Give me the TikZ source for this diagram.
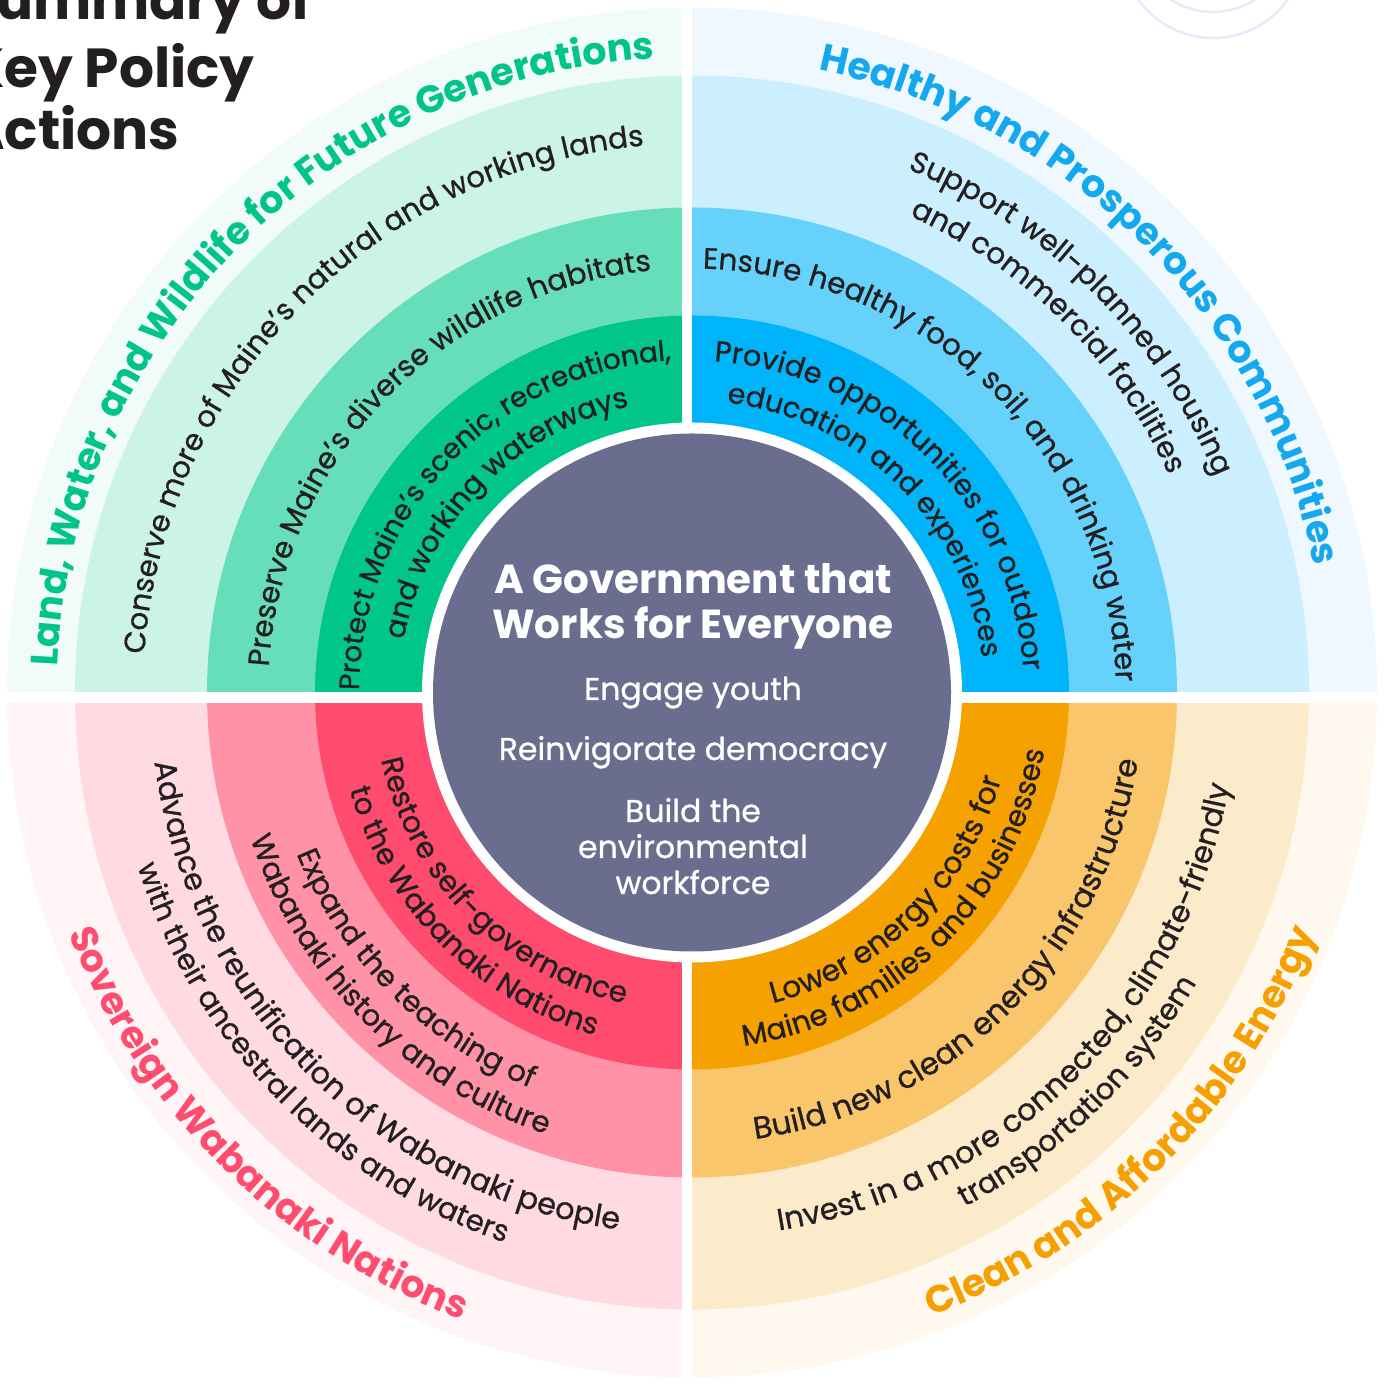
\documentclass[tikz,border=0pt]{standalone}
\usepackage{fontspec}
\setmainfont{Poppins}
\newfontfamily\medfont{Poppins}[FakeBold=0.8]
\usetikzlibrary{decorations.text}
\definecolor{ink}{HTML}{231F20}
\definecolor{tlA}{HTML}{F1FBF7}
\definecolor{tlB}{HTML}{CCF4E6}
\definecolor{tlC}{HTML}{66DEBA}
\definecolor{tlD}{HTML}{00C68A}
\definecolor{trA}{HTML}{EFF8FF}
\definecolor{trB}{HTML}{CCEFFF}
\definecolor{trC}{HTML}{66D2FC}
\definecolor{trD}{HTML}{00B4F9}
\definecolor{blA}{HTML}{FFF5F7}
\definecolor{blB}{HTML}{FFDAE2}
\definecolor{blC}{HTML}{FF92A7}
\definecolor{blD}{HTML}{FF4B6E}
\definecolor{brA}{HTML}{FEF8EF}
\definecolor{brB}{HTML}{FCEBCB}
\definecolor{brC}{HTML}{F9C66B}
\definecolor{brD}{HTML}{F5A200}
\definecolor{purp}{HTML}{6B6D8E}
\definecolor{faint}{HTML}{E4ECFA}
\definecolor{tG}{HTML}{00C48A}
\definecolor{tB}{HTML}{14A9EF}
\definecolor{tP}{HTML}{FF4D70}
\definecolor{tO}{HTML}{F5A000}
\newcommand\rfs[1]{\medfont\fontsize{#1}{35}\selectfont}
\newcommand\ringfnt{\rfs{29.5}}
\newcommand\headfnt{\bfseries\fontsize{38}{44}\selectfont}
% clockwise arc text (tops outward)
\newcommand\cwtext[5]{%
  \pgfmathsetmacro\myS{#1+80}\pgfmathsetmacro\myE{#1-80}%
  \path[decorate,decoration={text along path,text align=center,text={|\color{#3}#4|#5}}]
    (\myS:#2) arc[start angle=\myS,end angle=\myE,radius=#2];}
% counter-clockwise arc text (tops inward)
\newcommand\ccwtext[5]{%
  \pgfmathsetmacro\myS{#1-80}\pgfmathsetmacro\myE{#1+80}%
  \path[decorate,decoration={text along path,text align=center,text={|\color{#3}#4|#5}}]
    (\myS:#2) arc[start angle=\myS,end angle=\myE,radius=#2];}
\tikzset{
  sector/.style={fill=#1},
  ctitle/.style={anchor=base,text=white,font=\bfseries\fontsize{40.5}{46}\selectfont,inner sep=0pt},
  citem/.style={anchor=base,text=white,font=\medfont\fontsize{31.5}{36}\selectfont,inner sep=0pt},
  maintitle/.style={anchor=base west,text=ink,font=\bfseries\fontsize{55}{62}\selectfont,inner sep=0pt},
  faintring/.style={draw=faint,line width=2.5pt}
}
\begin{document}
\begin{tikzpicture}[x=1pt,y=1pt]
\useasboundingbox (0,0) rectangle (1389,1384);
\clip (0,0) rectangle (1389,1384);
\fill[white] (0,0) rectangle (1389,1384);
% faint circles top right
\draw[faintring] (1213,1449.8) circle (77.8);
\draw[faintring] (1213,1438) circle (92);
% main title
\node[maintitle] (mt1) at (-38,1364) {Summary of};
\node[maintitle] (mt2) at (-34,1296) {Key Policy};
\node[maintitle] (mt3) at (-36,1234) {Actions};
\begin{scope}[shift={(692,691.5)}]
  \foreach \r/\c in {685/tlA,617/tlB,485/tlC,377/tlD}
    \fill[sector=\c] (0,0) -- (90:\r) arc[start angle=90,end angle=180,radius=\r] -- cycle;
  \foreach \r/\c in {685/trA,617/trB,485/trC,377/trD}
    \fill[sector=\c] (0,0) -- (0:\r) arc[start angle=0,end angle=90,radius=\r] -- cycle;
  \foreach \r/\c in {685/blA,617/blB,485/blC,377/blD}
    \fill[sector=\c] (0,0) -- (180:\r) arc[start angle=180,end angle=270,radius=\r] -- cycle;
  \foreach \r/\c in {685/brA,617/brB,485/brC,377/brD}
    \fill[sector=\c] (0,0) -- (270:\r) arc[start angle=270,end angle=360,radius=\r] -- cycle;
  \fill[white] (-10.3,-700) rectangle (0.3,700);
  \fill[white] (-700,-10.2) rectangle (700,0.8);
  \fill[white] (0,0) circle (270);
  \fill[purp] (0,0) circle (259);
  % top-left
  \cwtext{135.5}{635}{tG}{\headfnt}{Land, Water, and Wildlife for Future Generations}
  \cwtext{135.5}{549}{ink}{\ringfnt}{Conserve more of Maine’s natural and working lands}
  \cwtext{136}{424}{ink}{\ringfnt}{Preserve Maine’s diverse wildlife habitats}
  \cwtext{136.6}{333}{ink}{\rfs{28}}{Protect Maine’s scenic, recreational,}
  \cwtext{136}{293}{ink}{\rfs{29}}{and working waterways}
  % top-right
  \cwtext{45}{635}{tB}{\headfnt}{Healthy and Prosperous Communities}
  \cwtext{45}{566}{ink}{\ringfnt}{Support well-planned housing}
  \cwtext{45}{524}{ink}{\ringfnt}{and commercial facilities}
  \cwtext{45}{424}{ink}{\ringfnt}{Ensure healthy food, soil, and drinking water}
  \cwtext{45}{332}{ink}{\rfs{29}}{Provide opportunities for outdoor}
  \cwtext{45}{292}{ink}{\rfs{28.5}}{education and experiences}
  % bottom-left
  \ccwtext{225.5}{668}{tP}{\headfnt}{Sovereign Wabanaki Nations}
  \ccwtext{224.8}{542}{ink}{\rfs{30.5}}{Advance the reunification of Wabanaki people}
  \ccwtext{224.3}{581}{ink}{\ringfnt}{with their ancestral lands and waters}
  \ccwtext{225}{427}{ink}{\ringfnt}{Expand the teaching of}
  \ccwtext{225}{465}{ink}{\ringfnt}{Wabanaki history and culture}
  \ccwtext{225}{318}{ink}{\ringfnt}{Restore self-governance}
  \ccwtext{225}{356}{ink}{\ringfnt}{to the Wabanaki Nations}
  % bottom-right
  \ccwtext{315}{668}{tO}{\headfnt}{Clean and Affordable Energy}
  \ccwtext{314.7}{545}{ink}{\rfs{30.5}}{Invest in a more connected, climate-friendly}
  \ccwtext{314}{582}{ink}{\ringfnt}{transportation system}
  \ccwtext{314.7}{451}{ink}{\rfs{31}}{Build new clean energy infrastructure}
  \ccwtext{314.5}{321}{ink}{\rfs{30}}{Lower energy costs for}
  \ccwtext{314.5}{357}{ink}{\ringfnt}{Maine families and businesses}
  % centre
  \node[ctitle] (c1) at (1,98.5) {A Government that};
  \node[ctitle] (c2) at (1,53.5) {Works for Everyone};
  \node[citem] (c3) at (1,-7.5) {Engage youth};
  \node[citem] (c4) at (1,-67.5) {Reinvigorate democracy};
  \node[citem] (c5) at (1,-129.5) {Build the};
  \node[citem] (c6) at (1,-165.5) {environmental};
  \node[citem] (c7) at (1,-201.5) {workforce};
\end{scope}
\end{tikzpicture}
\end{document}
